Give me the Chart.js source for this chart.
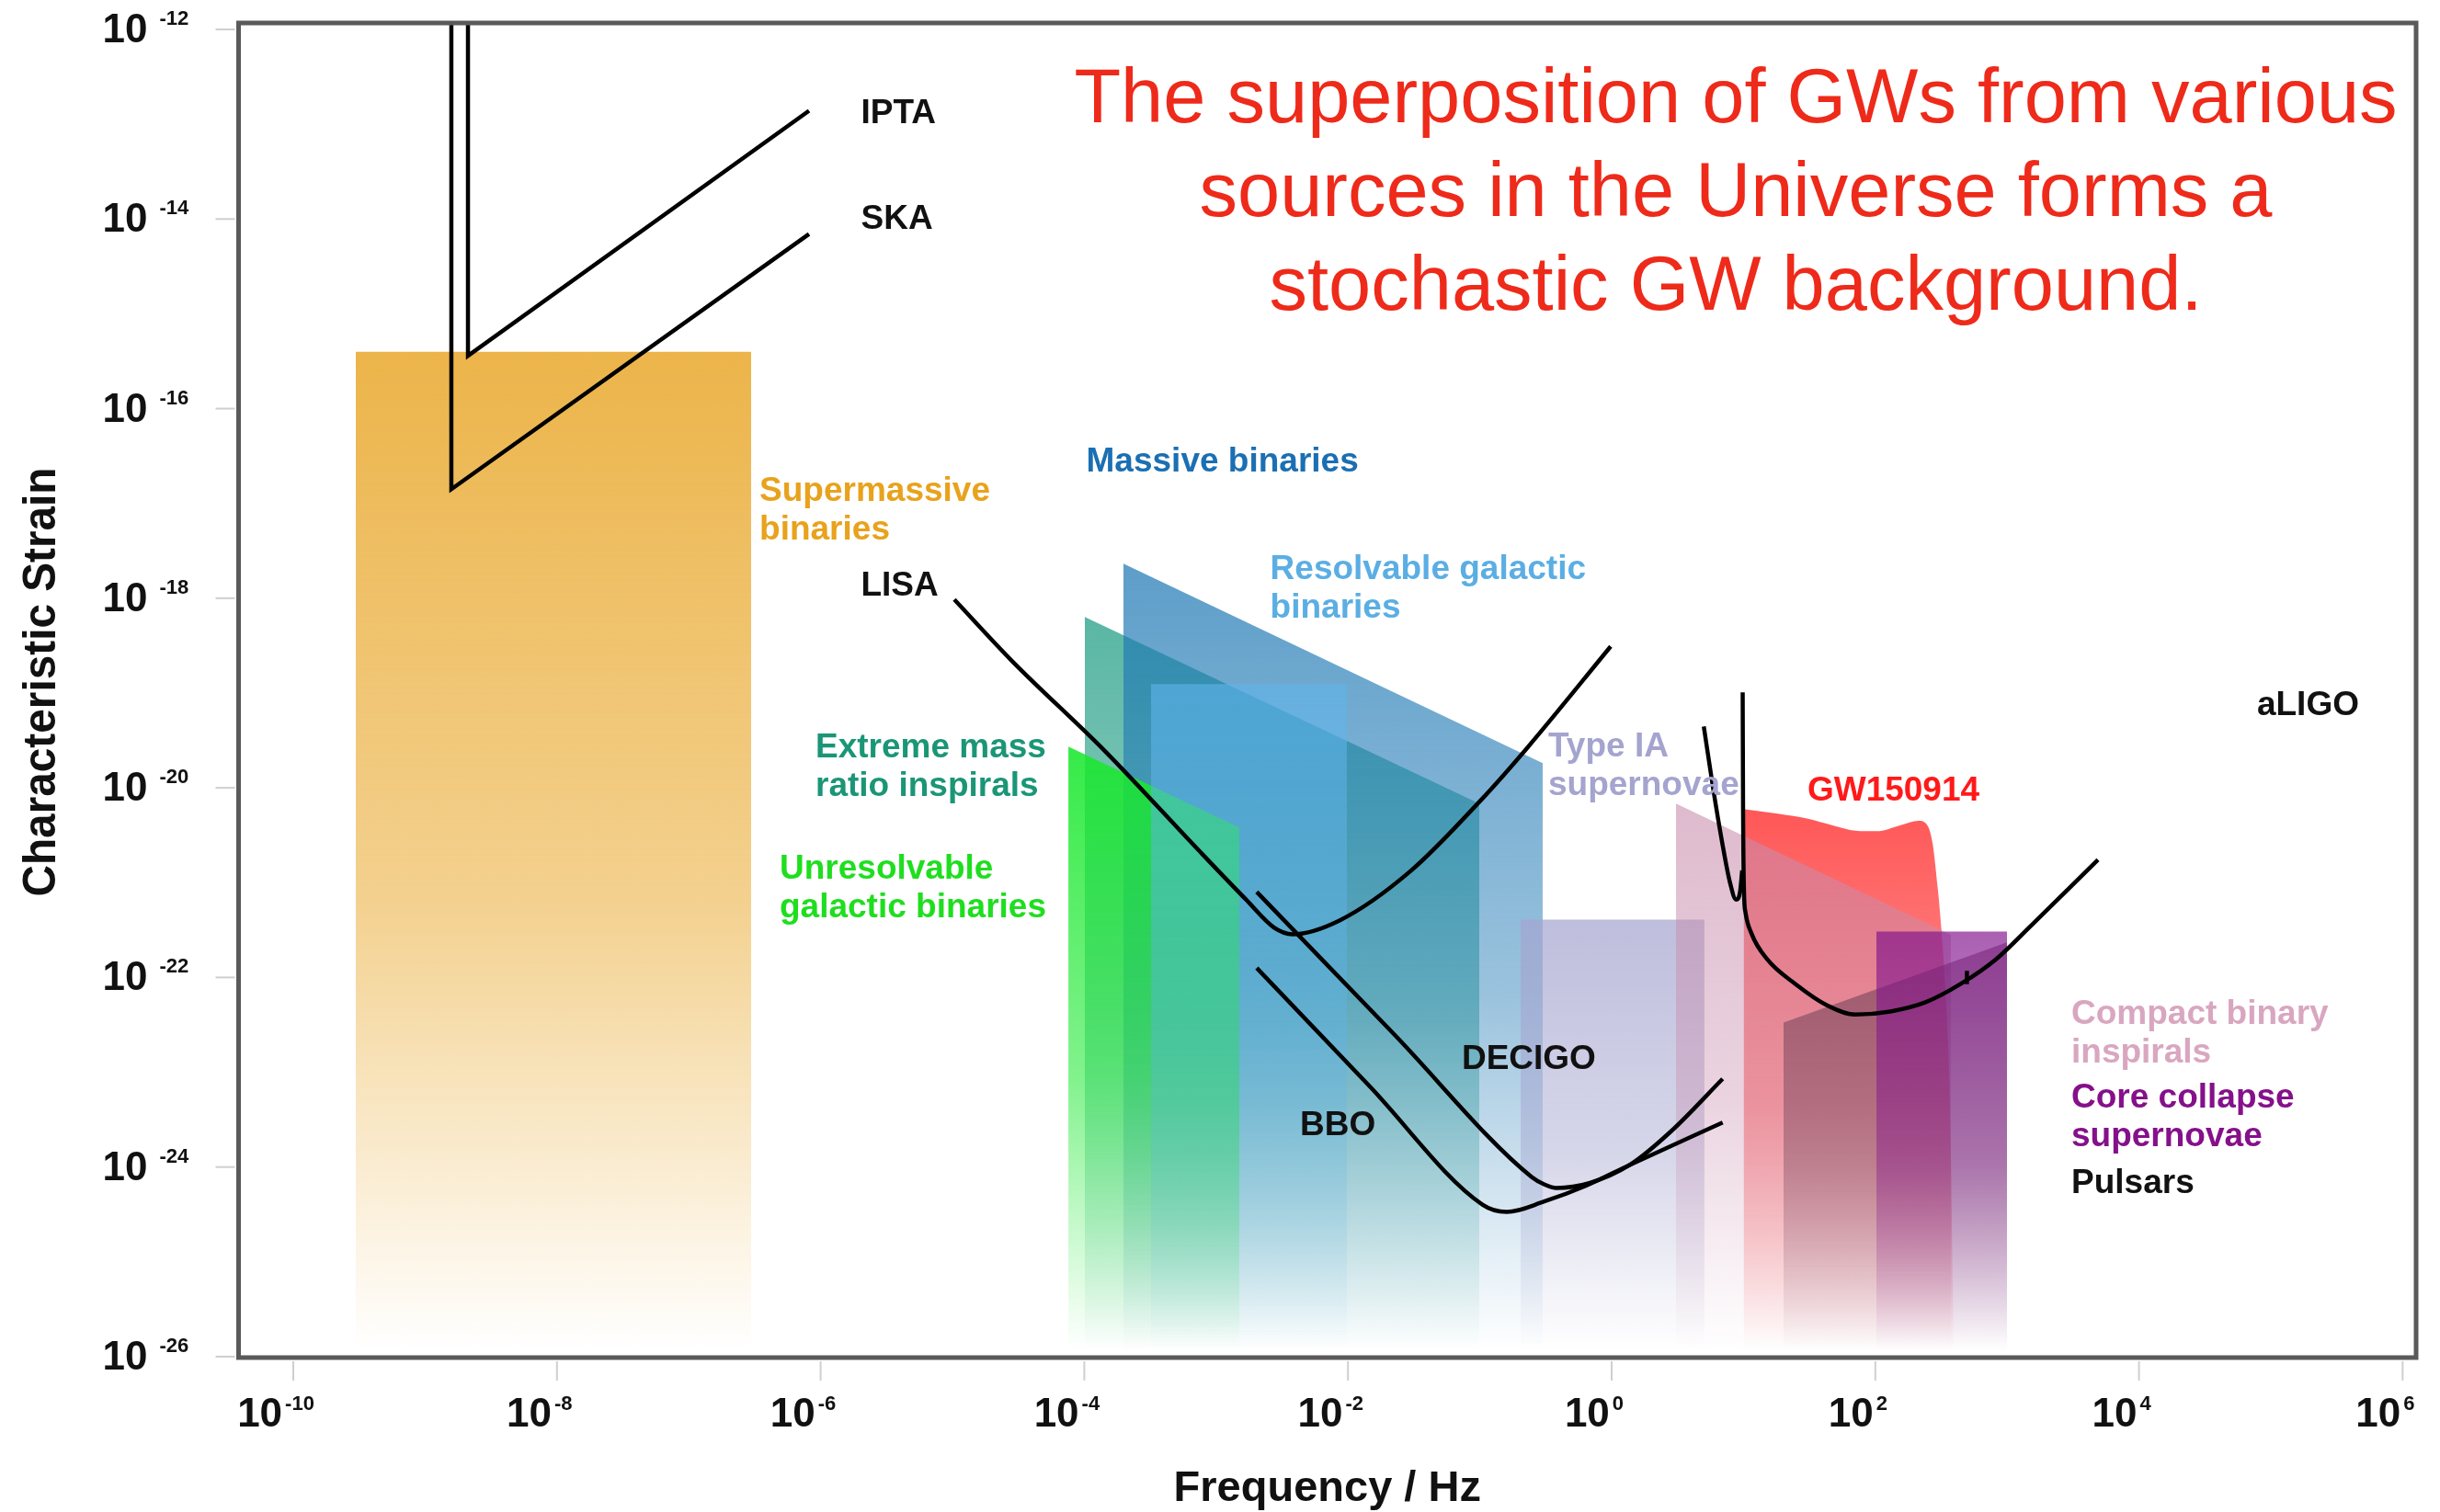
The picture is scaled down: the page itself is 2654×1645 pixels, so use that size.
<!DOCTYPE html>
<html>
<head>
<meta charset="utf-8">
<title>Characteristic strain of gravitational-wave sources</title>
<script src="https://cdn.jsdelivr.net/npm/chart.js@4.4.1/dist/chart.umd.min.js"></script>
<style>
  html, body { margin: 0; padding: 0; background: #ffffff; }
  canvas { display: block; }
</style>
</head>
<body>
<canvas id="gw" width="2654" height="1645"></canvas>
<script>
// All values are log10 of frequency (Hz) and log10 of characteristic strain.
const xTickExponents = [-10, -8, -6, -4, -2, 0, 2, 4, 6];
const yTickExponents = [-12, -14, -16, -18, -20, -22, -24, -26];

// Source regions: upper edge of each band, filled down to the bottom of the plot
const smbhLogF = [-9.526, -6.527];
const smbhLogH = [-15.40, -15.40];
const unresolvedLogF = [-4.121, -2.824];
const unresolvedLogH = [-19.565, -20.419];
const emriLogF = [-3.996, -1.004];
const emriLogH = [-18.198, -20.167];
const massiveLogF = [-3.703, -0.523];
const massiveLogH = [-17.635, -19.740];
const resolvedLogF = [-3.494, -2.008];
const resolvedLogH = [-18.906, -18.906];
const snIaLogF = [-0.690, 0.704];
const snIaLogH = [-21.389, -21.389];
const gw150914LogF = [1.001, 1.260, 1.473, 1.688, 1.847, 2.008, 2.194, 2.328, 2.394, 2.434, 2.474, 2.501, 2.541, 2.566, 2.594];
const gw150914LogH = [-20.225, -20.273, -20.322, -20.400, -20.451, -20.458, -20.393, -20.348, -20.393, -20.581, -21.066, -21.486, -22.359, -23.329, -25.90];
const compactLogF = [0.488, 2.573];
const compactLogH = [-20.167, -21.551];
const pulsarLogF = [1.304, 2.999];
const pulsarLogH = [-22.475, -21.631];
const coreLogF = [2.008, 2.999];
const coreLogH = [-21.515, -21.515];

// Detector sensitivity curves
const iptaLogF = [-8.675, -8.675, -6.088];
const iptaLogH = [-11.0, -15.443, -12.858];
const skaLogF = [-8.801, -8.801, -6.088];
const skaLogH = [-11.0, -16.850, -14.158];
const lisaLogF = [-4.986, -4.554, -3.842, -3.131, -2.775, -2.559, -2.420, -2.064, -1.527, -0.997, -0.642, -0.007];
const lisaLogH = [-18.014, -18.654, -19.614, -20.661, -21.176, -21.476, -21.544, -21.399, -20.880, -20.138, -19.581, -18.508];
const decigoLogF = [-2.692, -1.650, -0.607, -0.512, -0.419, -0.170, 0.140, 0.453, 0.842];
const decigoLogH = [-21.098, -22.600, -24.105, -24.182, -24.221, -24.170, -23.976, -23.620, -23.070];
const bboLogF = [-2.692, -1.836, -0.980, -0.795, -0.512, -0.202, 0.140, 0.842];
const bboLogH = [-21.900, -23.148, -24.396, -24.473, -24.364, -24.202, -23.976, -23.530];
const ligoEarlyLogF = [0.699, 0.769, 0.839, 0.898, 0.944, 0.974, 0.990];
const ligoEarlyLogH = [-19.352, -19.999, -20.581, -21.001, -21.179, -21.098, -20.872];
const aligoLogF = [0.994, 0.997, 1.004, 1.015, 1.060, 1.180, 1.393, 1.634, 1.847, 2.114, 2.381, 2.648, 2.915, 3.181, 3.689];
const aligoLogH = [-18.993, -20.225, -21.098, -21.311, -21.534, -21.809, -22.068, -22.294, -22.391, -22.359, -22.262, -22.068, -21.809, -21.454, -20.758];
const aligoMarkLogF = [2.695, 2.695];
const aligoMarkLogH = [-21.93, -22.07];

// Text annotations anchored in data space (left edge / first baseline)
const annotations = [
  { lines: ['IPTA'], f: -5.694, h: -12.989, color: '#111111' },
  { lines: ['SKA'], f: -5.694, h: -14.105, color: '#111111' },
  { lines: ['Supermassive', 'binaries'], f: -6.464, h: -16.976, color: '#E8A21C' },
  { lines: ['LISA'], f: -5.694, h: -17.975, color: '#111111' },
  { lines: ['Massive binaries'], f: -3.985, h: -16.665, color: '#1B6FB2' },
  { lines: ['Resolvable galactic', 'binaries'], f: -2.590, h: -17.800, color: '#5BAEE3' },
  { lines: ['Extreme mass', 'ratio inspirals'], f: -6.039, h: -19.682, color: '#1A9677' },
  { lines: ['Unresolvable', 'galactic binaries'], f: -6.311, h: -20.962, color: '#1FDE1F' },
  { lines: ['Type IA', 'supernovae'], f: -0.481, h: -19.672, color: '#A4A4CF' },
  { lines: ['GW150914'], f: 1.485, h: -20.135, color: '#FF1A1A' },
  { lines: ['aLIGO'], f: 4.895, h: -19.232, color: '#111111' },
  { lines: ['DECIGO'], f: -1.137, h: -22.970, color: '#111111' },
  { lines: ['BBO'], f: -2.364, h: -23.668, color: '#111111' },
  { lines: ['Compact binary', 'inspirals'], f: 3.487, h: -22.495, color: '#D9A6C0' },
  { lines: ['Core collapse', 'supernovae'], f: 3.487, h: -23.377, color: '#85108A' },
  { lines: ['Pulsars'], f: 3.487, h: -24.270, color: '#111111' }
];

const headline = [
  'The superposition of GWs from various',
  'sources in the Universe forms a',
  'stochastic GW background.'
];

const FONT = "'Liberation Sans', Arial, Helvetica, sans-serif";

function toPoints(logF, logH) {
  return logF.map((f, i) => ({ x: Math.pow(10, f), y: Math.pow(10, logH[i]) }));
}

// Vertical fade from the top of a band down to the bottom of the plot
function fadeFill(rgb, alpha) {
  return (c) => {
    const chart = c.chart;
    const area = chart.chartArea;
    if (!area || !c.dataset) return `rgba(${rgb},${alpha})`;
    const top = chart.scales.y.getPixelForValue(Math.max(...c.dataset.data.map(p => p.y)));
    const g = chart.ctx.createLinearGradient(0, top, 0, area.bottom - 8);
    g.addColorStop(0, `rgba(${rgb},${alpha})`);
    g.addColorStop(0.55, `rgba(${rgb},${alpha * 0.62})`);
    g.addColorStop(1, `rgba(${rgb},0)`);
    return g;
  };
}

function band(logF, logH, rgb, alpha, order, smooth) {
  return {
    data: toPoints(logF, logH),
    fill: 'start',
    backgroundColor: fadeFill(rgb, alpha),
    borderColor: 'rgba(0,0,0,0)',
    borderWidth: 0,
    pointRadius: 0,
    tension: 0,
    cubicInterpolationMode: smooth ? 'monotone' : 'default',
    order: order
  };
}

function curve(logF, logH, smooth) {
  return {
    data: toPoints(logF, logH),
    fill: false,
    borderColor: '#000000',
    borderWidth: 4.5,
    pointRadius: 0,
    tension: 0,
    cubicInterpolationMode: smooth ? 'monotone' : 'default',
    borderCapStyle: 'butt',
    borderJoinStyle: 'miter',
    order: 0
  };
}

const datasets = [
  curve(iptaLogF, iptaLogH, false),
  curve(skaLogF, skaLogH, false),
  curve(lisaLogF, lisaLogH, true),
  curve(decigoLogF, decigoLogH, true),
  curve(bboLogF, bboLogH, true),
  curve(ligoEarlyLogF, ligoEarlyLogH, true),
  curve(aligoLogF, aligoLogH, true),
  curve(aligoMarkLogF, aligoMarkLogH, false),
  band(coreLogF, coreLogH, '130,20,140', 0.68, 1, false),
  band(pulsarLogF, pulsarLogH, '95,55,80', 0.55, 2, false),
  band(compactLogF, compactLogH, '200,140,172', 0.6, 3, false),
  band(gw150914LogF, gw150914LogH, '255,45,45', 0.8, 4, true),
  band(snIaLogF, snIaLogH, '165,165,208', 0.72, 5, false),
  band(resolvedLogF, resolvedLogH, '95,180,235', 0.6, 6, false),
  band(unresolvedLogF, unresolvedLogH, '25,232,45', 0.88, 7, false),
  band(massiveLogF, massiveLogH, '30,120,180', 0.72, 8, false),
  band(emriLogF, emriLogH, '26,154,128', 0.72, 9, false),
  band(smbhLogF, smbhLogH, '235,176,64', 0.95, 10, false)
];

function drawText(ctx, s, x, y, font, color, align, sx) {
  ctx.save();
  ctx.translate(x, y);
  ctx.scale(sx || 1, 1);
  ctx.font = font;
  ctx.fillStyle = color;
  ctx.textAlign = align || 'left';
  ctx.textBaseline = 'alphabetic';
  ctx.fillText(s, 0, 0);
  ctx.restore();
}

const decorations = {
  id: 'decorations',
  afterDatasetsDraw(chart) {
    const { ctx, chartArea: a, scales } = chart;
    const xs = scales.x, ys = scales.y;
    ctx.save();

    // plot frame
    ctx.strokeStyle = '#5a5a5a';
    ctx.lineWidth = 5;
    ctx.strokeRect(a.left, a.top, a.right - a.left, a.bottom - a.top);

    // tick marks
    ctx.strokeStyle = '#cfcfcf';
    ctx.lineWidth = 2;
    xTickExponents.forEach(e => {
      const px = xs.getPixelForValue(Math.pow(10, e));
      ctx.beginPath(); ctx.moveTo(px, a.bottom + 4); ctx.lineTo(px, a.bottom + 25); ctx.stroke();
    });
    yTickExponents.forEach(e => {
      const py = ys.getPixelForValue(Math.pow(10, e));
      ctx.beginPath(); ctx.moveTo(a.left - 25, py); ctx.lineTo(a.left - 4, py); ctx.stroke();
    });

    // tick labels: 10 with superscript exponent
    const baseFont = `bold 44px ${FONT}`;
    const supFont = `bold 22px ${FONT}`;
    xTickExponents.forEach(e => {
      const px = xs.getPixelForValue(Math.pow(10, e));
      const sup = String(e);
      ctx.font = baseFont; const w1 = ctx.measureText('10').width;
      ctx.font = supFont; const w2 = ctx.measureText(sup).width;
      const gap = 3;
      const start = px - 19 - (w1 + gap + w2) / 2;
      drawText(ctx, '10', start, a.bottom + 75, baseFont, '#111111', 'left');
      drawText(ctx, sup, start + w1 + gap, a.bottom + 57, supFont, '#111111', 'left');
    });
    yTickExponents.forEach(e => {
      const py = ys.getPixelForValue(Math.pow(10, e));
      drawText(ctx, '10', a.left - 99, py + 14, baseFont, '#111111', 'right');
      drawText(ctx, String(e), a.left - 86, py - 5, supFont, '#111111', 'left');
    });

    // axis titles
    drawText(ctx, 'Frequency / Hz', (a.left + a.right) / 2, 1633, `bold 47px ${FONT}`, '#111111', 'center');
    ctx.save();
    ctx.translate(60, 742);
    ctx.rotate(-Math.PI / 2);
    drawText(ctx, 'Characteristic Strain', 0, 0, `bold 50px ${FONT}`, '#111111', 'center', 0.955);
    ctx.restore();

    // region and detector labels
    const labelFont = `bold 37px ${FONT}`;
    annotations.forEach(lab => {
      const px = xs.getPixelForValue(Math.pow(10, lab.f));
      const py = ys.getPixelForValue(Math.pow(10, lab.h));
      lab.lines.forEach((t, i) => {
        drawText(ctx, t, px, py + i * 41.5, labelFont, lab.color, 'left');
      });
    });

    // headline
    headline.forEach((t, i) => {
      drawText(ctx, t, 1888, 133 + i * 102, `83px ${FONT}`, '#EE2A1A', 'center');
    });

    ctx.restore();
  }
};

new Chart(document.getElementById('gw'), {
  type: 'line',
  data: { datasets },
  options: {
    responsive: false,
    devicePixelRatio: 1,
    animation: false,
    events: [],
    layout: { padding: { left: 259.5, right: 26, top: 25, bottom: 168 } },
    scales: {
      x: {
        type: 'logarithmic',
        display: false,
        min: Math.pow(10, -10.415),
        max: Math.pow(10, 6.102)
      },
      y: {
        type: 'logarithmic',
        display: false,
        min: Math.pow(10, -26.01),
        max: Math.pow(10, -11.932)
      }
    },
    plugins: {
      legend: { display: false },
      tooltip: { enabled: false },
      filler: { propagate: false }
    }
  },
  plugins: [decorations]
});
</script>
</body>
</html>
